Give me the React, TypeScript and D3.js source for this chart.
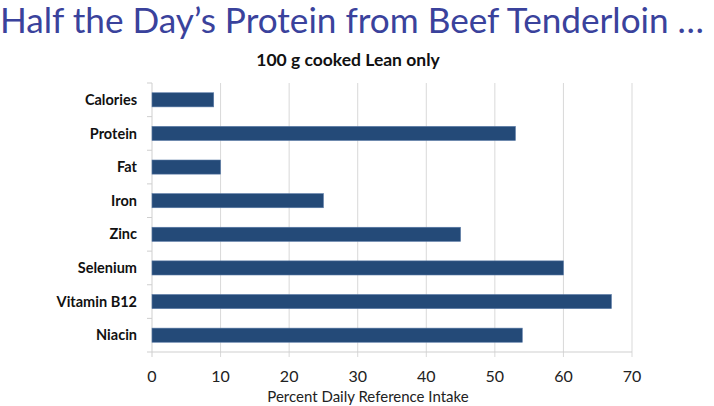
import React, { useEffect, useRef } from "react";
import * as d3 from "d3";

const nutrients = ["Calories", "Protein", "Fat", "Iron", "Zinc", "Selenium", "Vitamin B12", "Niacin"];
const percentDRI = [9, 53, 10, 25, 45, 60, 67, 54];
const xTicks = [0, 10, 20, 30, 40, 50, 60, 70];

const title = "Half the Day\u2019s Protein from Beef Tenderloin \u2026";
const subtitle = "100 g cooked Lean only";
const xLabel = "Percent Daily Reference Intake";

export default function App() {
  const ref = useRef<SVGSVGElement>(null);

  useEffect(() => {
    const svg = d3.select(ref.current);
    svg.selectAll("*").remove();
    const font = "Lato, 'Open Sans', sans-serif";

    const x = d3.scaleLinear().domain([0, 70]).range([152, 632]);
    const y = d3.scaleBand().domain(nutrients).range([83, 352]).paddingInner(0.58).paddingOuter(0.29);
    const step = y.step();

    svg.append("text").attr("x", 0).attr("y", 33).attr("font-family", font).attr("font-size", 34)
      .attr("fill", "#3a429c").attr("textLength", 704).attr("lengthAdjust", "spacingAndGlyphs").text(title);

    svg.append("text").attr("x", 348).attr("y", 66).attr("text-anchor", "middle").attr("font-family", font)
      .attr("font-weight", "bold").attr("font-size", 17.5).attr("fill", "#111").text(subtitle);

    // grid
    svg.append("g").selectAll("line").data(xTicks.slice(1)).join("line")
      .attr("x1", d => x(d)).attr("x2", d => x(d)).attr("y1", 83).attr("y2", 357)
      .attr("stroke", "#d9d9d9").attr("stroke-width", 1);

    // axes lines
    svg.append("line").attr("x1", 152).attr("x2", 632).attr("y1", 352).attr("y2", 352).attr("stroke", "#cfcfcf");
    svg.append("line").attr("x1", 152).attr("x2", 152).attr("y1", 83).attr("y2", 357).attr("stroke", "#cfcfcf");
    svg.append("g").selectAll("line").data(d3.range(nutrients.length + 1)).join("line")
      .attr("x1", 147).attr("x2", 152).attr("y1", i => 83 + i * step).attr("y2", i => 83 + i * step)
      .attr("stroke", "#cfcfcf");

    // bars
    svg.append("g").selectAll("rect").data(nutrients).join("rect")
      .attr("x", x(0)).attr("y", d => y(d)!).attr("height", y.bandwidth())
      .attr("width", (d, i) => x(percentDRI[i]) - x(0))
      .attr("fill", "#244a78").attr("stroke", "#5a7aa6").attr("stroke-width", 0.6);

    // category labels
    svg.append("g").selectAll("text").data(nutrients).join("text")
      .attr("x", 137).attr("y", d => y(d)! + y.bandwidth() / 2).attr("dy", "0.35em")
      .attr("text-anchor", "end").attr("font-family", font).attr("font-weight", "bold")
      .attr("font-size", 14.5).attr("fill", "#111").text(d => d);

    // tick labels
    svg.append("g").selectAll("text").data(xTicks).join("text")
      .attr("x", d => x(d)).attr("y", 382).attr("text-anchor", "middle").attr("font-family", font)
      .attr("font-size", 16).attr("fill", "#222").text(d => d);

    svg.append("text").attr("x", 368).attr("y", 402).attr("text-anchor", "middle").attr("font-family", font)
      .attr("font-size", 15).attr("fill", "#222").text(xLabel);
  }, []);

  return (
    <svg ref={ref} width={714} height={406} style={{ position: "absolute", left: 0, top: 0, background: "#fff" }} />
  );
}
